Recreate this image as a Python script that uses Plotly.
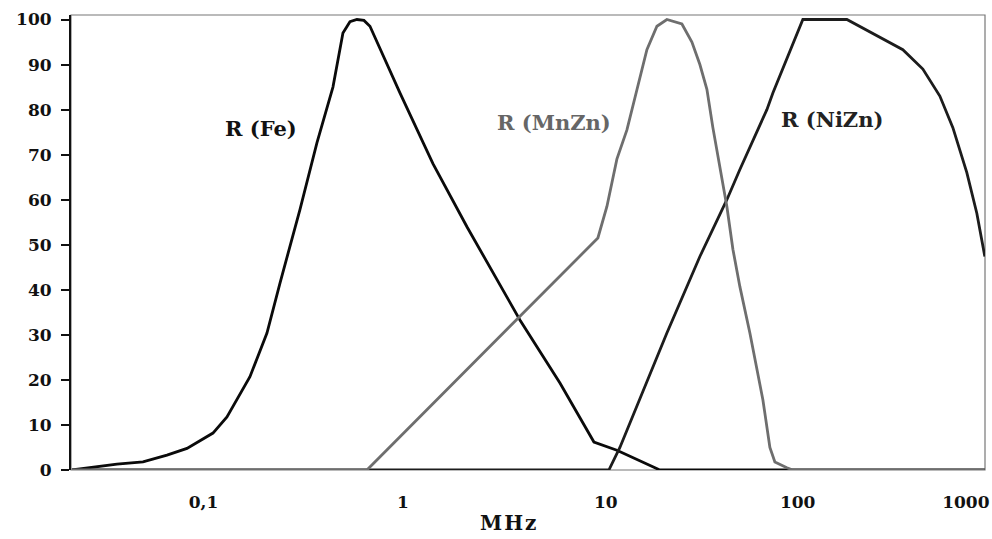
import plotly.graph_objects as go

# Frequency (MHz) and R values
fe_f = [0.01723, 0.02071, 0.02992, 0.04117, 0.05527, 0.07063, 0.09028, 0.09718, 0.1154, 0.1305,
        0.1530, 0.1885, 0.2212, 0.2826, 0.3480, 0.4236, 0.4789, 0.5220, 0.5687, 0.6197, 0.6672,
        0.9638, 1.445, 2.193, 3.288, 4.202, 6.866, 10.42, 13.81, 23.41, 1262]
fe_r = [0, 0.4, 1.3, 1.8, 3.3, 4.8, 7.3, 8.2, 11.8, 15.6,
        20.7, 30.4, 41.5, 57.8, 72.6, 85, 97, 99.5, 100, 99.8, 98.5,
        83.7, 68, 54, 41, 33.3, 19.3, 6.2, 4.4, 0, 0]

mnzn_f = [0.01723, 0.6429, 10.94, 12.22, 13.81, 15.62, 17.66, 19.96, 22.57, 25.51, 30.67, 34.67,
          38.24, 41.68, 44.85, 48.89, 53.25, 57.34, 62.47, 70.63, 82.84, 90.28, 95.99, 111.2,
          119.7, 1262]
mnzn_r = [0, 0, 51.5, 58.5, 69, 75.5, 84.4, 93.3, 98.5, 100, 99, 95,
          90, 84.5, 76, 67, 58.5, 49, 40.7, 30.4, 15.6, 5, 1.8, 0.5,
          0, 0]

nizn_f = [0.01723, 12.52, 14.33, 25.51, 38.24, 53.25, 62.47, 87.01, 93.66, 130.5, 135.3, 232.2,
          348.0, 461.6, 589.9, 726.7, 852.6, 1012, 1144, 1262]
nizn_r = [0, 0, 5, 30.4, 47.4, 60, 66.7, 80, 83.7, 98.5, 100, 100,
          96, 93.3, 89, 83, 76, 66, 57, 47.4]

x_tickvals = [0.1, 1, 10, 100, 1000]
x_ticktext = ["0,1", "1", "10", "100", "1000"]
y_tickvals = list(range(0, 101, 10))

# non-collapsing padding so the labels sit where the reference prints them
FS, TS = "\u2007", "\u2009"
pads = [("", FS + FS), ("", ""), (FS + FS + TS + TS, ""), (FS + FS + FS + TS, ""), ("", "")]
x_ticktext_shown = [lp + t + rp for t, (lp, rp) in zip(x_ticktext, pads)]

FONT = "DejaVu Serif"
fig = go.Figure()
fig.add_trace(go.Scatter(x=fe_f, y=fe_r, mode="lines", name="R (Fe)",
                         line=dict(color="#0a0a0a", width=2.8)))
fig.add_trace(go.Scatter(x=nizn_f, y=nizn_r, mode="lines", name="R (NiZn)",
                         line=dict(color="#1c1c1c", width=2.8)))
fig.add_trace(go.Scatter(x=mnzn_f, y=mnzn_r, mode="lines", name="R (MnZn)",
                         line=dict(color="#6e6e6e", width=2.8)))

fig.update_layout(
    template="none",
    width=992, height=539,
    margin=dict(l=71, r=7, t=15, b=69, autoexpand=False),
    paper_bgcolor="white", plot_bgcolor="white",
    showlegend=False,
    font=dict(family=FONT, size=17, color="#111"),
    xaxis=dict(type="log", range=[-1.769, 3.102], tickvals=x_tickvals, ticktext=x_ticktext_shown,
               showgrid=False, zeroline=False, showline=False, ticks="",
               automargin=False, ticklabelstandoff=20, ticklabeloverflow="allow",
               tickfont=dict(family=FONT, size=17, color="#111", weight="bold")),
    yaxis=dict(range=[0, 101], tickvals=y_tickvals, showgrid=False, zeroline=False,
               automargin=False,
               showline=True, linecolor="#111", linewidth=2, ticks="outside",
               ticklen=8, tickwidth=1.5, tickcolor="#111", ticklabelstandoff=6,
               tickfont=dict(family=FONT, size=17, color="#111", weight="bold")),
    shapes=[dict(type="rect", xref="paper", yref="paper", x0=0, x1=1, y0=0, y1=1,
                 line=dict(color="#777", width=1.2), layer="below")],
    annotations=[
        dict(text="<b>R (Fe)</b>", x=-0.757, y=75.8, xref="x", yref="y",
             showarrow=False, font=dict(family=FONT, size=21, color="#111")),
        dict(text="<b>R (MnZn)</b>", x=0.805, y=77.1, xref="x", yref="y",
             showarrow=False, font=dict(family=FONT, size=21, color="#666")),
        dict(text="<b>R (NiZn)</b>", x=2.286, y=77.8, xref="x", yref="y",
             showarrow=False, font=dict(family=FONT, size=21, color="#222")),
        dict(text="<b>M\u200aH\u200az</b>", x=0.478, y=-0.116, xref="paper", yref="paper",
             xanchor="center", yanchor="middle",
             showarrow=False, font=dict(family=FONT, size=20, color="#111")),
    ],
)
fig.write_html("out.html", config={"displayModeBar": False},
               post_script="document.body.style.margin='0';")
